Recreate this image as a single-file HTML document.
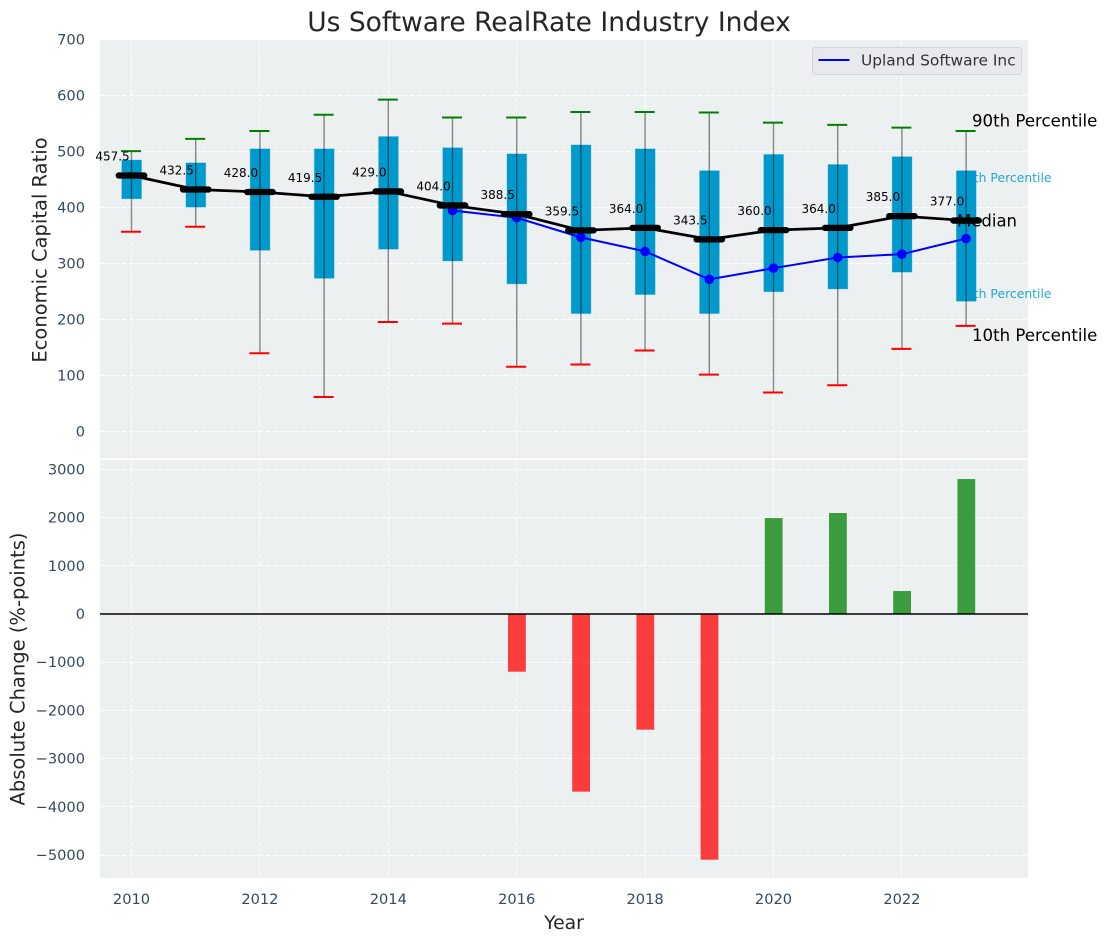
<!DOCTYPE html>
<html lang="en">
<head>
<meta charset="utf-8">
<title>Us Software RealRate Industry Index</title>
<style>
html,body{margin:0;padding:0;background:#fff;}
svg{display:block;font-family:"DejaVu Sans","Liberation Sans",sans-serif;}
</style>
</head>
<body>
<svg id="chart" xmlns="http://www.w3.org/2000/svg" width="1107" height="942" viewBox="0 0 1107 942">
  <rect x="100" y="40" width="928" height="418.5" fill="#ecf0f1"/>
  <rect x="100" y="460" width="928" height="418" fill="#ecf0f1"/>
  <g id="grid"></g>
  <text x="958" y="182" font-size="12.4" fill="#0099cc" fill-opacity="0.85">75th Percentile</text>
  <text x="958" y="298" font-size="12.4" fill="#0099cc" fill-opacity="0.85">25th Percentile</text>
  <g id="bars"></g>
  <line x1="100" x2="1028" y1="614" y2="614" stroke="#000" stroke-width="1.6"/>
  <g id="boxes"></g>
  <g id="company"></g>
  <text x="957" y="226.500" font-size="16.5" fill="#000">Median</text>
  <g id="medians"></g>
  <text x="972" y="126.500" font-size="16.6" fill="#000">90th Percentile</text>
  <text x="972" y="341" font-size="16.6" fill="#000">10th Percentile</text>
  <g id="ticks" font-size="14.6" fill="#34495e"></g>
  <text x="549" y="31" text-anchor="middle" font-size="26.5" fill="#262626">Us Software RealRate Industry Index</text>
  <text transform="translate(46.500,250) rotate(-90)" text-anchor="middle" font-size="19.5" fill="#262626">Economic Capital Ratio</text>
  <text transform="translate(24.500,669) rotate(-90)" text-anchor="middle" font-size="19.5" fill="#262626">Absolute Change (%-points)</text>
  <text x="564" y="929" text-anchor="middle" font-size="18.8" fill="#262626">Year</text>
  <g>
    <rect x="812.500" y="47.500" width="209" height="27" rx="3" fill="#e8e9ef" stroke="#d4d5dc" stroke-width="1"/>
    <line x1="818.500" x2="849.500" y1="60" y2="60" stroke="#0000ff" stroke-width="2"/>
    <text x="861" y="65.500" font-size="15.4" fill="#333">Upland Software Inc</text>
  </g>
</svg>
<script>
const years = [2010,2011,2012,2013,2014,2015,2016,2017,2018,2019,2020,2021,2022,2023];
const p90 = [501,523,537,566,593,561,561,571,571,570,552,548,543,537];
const p75 = [485,480,505,505,527,507,496,512,505,466,495,477,491,466];
const medianValues = [457.5,432.5,428.0,419.5,429.0,404.0,388.5,359.5,364.0,343.5,360.0,364.0,385.0,377.0];
const p25 = [416,401,324,274,326,305,264,211,245,211,250,255,285,233];
const p10 = [357,366,140,62,196,193,116,120,145,102,70,83,148,189];
const companyYears = [2015,2016,2017,2018,2019,2020,2021,2022,2023];
const companyValues = [395,382,347,322,272,292,311,317,345];
const changeYears = [2016,2017,2018,2019,2020,2021,2022,2023];
const changeValues = [-1197,-3686,-2400,-5097,1990,2095,477,2800];
const xTicks = [2010,2012,2014,2016,2018,2020,2022];
const topYTicks = [0,100,200,300,400,500,600,700];
const bottomYTicks = [-5000,-4000,-3000,-2000,-1000,0,1000,2000,3000];

const NS = 'http://www.w3.org/2000/svg';
const xScale = v => 131.5 + (v - 2010) * 64.2;
const yTop = v => 431.7 - v * 0.56;
const yBottom = v => 614 - v * 0.0482;
const minus = v => String(v).replace('-', '\u2212');
const snap = p => Math.floor(p) + 0.5;

function make(tag, parent, props, content) {
  const el = document.createElementNS(NS, tag);
  Object.keys(props).forEach(k => el.setAttribute(k, props[k]));
  if (content !== undefined) el.textContent = content;
  parent.appendChild(el);
  return el;
}
const gridG = document.getElementById('grid');
const barsG = document.getElementById('bars');
const boxesG = document.getElementById('boxes');
const companyG = document.getElementById('company');
const mediansG = document.getElementById('medians');
const ticksG = document.getElementById('ticks');
const gridStyle = {stroke:'#fff','stroke-width':1,'stroke-opacity':0.9,'stroke-dasharray':'5 2.2'};

xTicks.forEach(t => {
  [[40,458.5],[460,878]].forEach(r => {
    const gl = make('line', gridG, Object.assign({x1:snap(xScale(t)),x2:snap(xScale(t)),y1:r[0],y2:r[1]}, gridStyle));
    
    
  });
  const lab = make('text', ticksG, {x:xScale(t),y:904,'text-anchor':'middle'}, t);
  
  
});
topYTicks.forEach(t => {
  const gl = make('line', gridG, Object.assign({x1:100,x2:1028,y1:snap(yTop(t)),y2:snap(yTop(t))}, gridStyle));
  
  
  const lab = make('text', ticksG, {x:85,y:yTop(t)+5,'text-anchor':'end'}, t);
  
  
});
bottomYTicks.forEach(t => {
  const gl = make('line', gridG, Object.assign({x1:100,x2:1028,y1:snap(yBottom(t)),y2:snap(yBottom(t))}, gridStyle));
  
  
  const lab = make('text', ticksG, {x:85,y:yBottom(t)+5,'text-anchor':'end'}, minus(t));
  
  
});

changeValues.forEach((v, i) => {
  const x = xScale(changeYears[i]);
  const bar = make('rect', barsG, {
    x:x-8.7, width:17.8,
    y:Math.min(yBottom(v), yBottom(0)),
    height:Math.abs(yBottom(v)-yBottom(0)),
    fill:v < 0 ? '#ff0000' : '#008000', 'fill-opacity':0.75
  });
  
  
});

years.forEach((yr, i) => {
  const x = xScale(yr);
  const box = make('rect', boxesG, {
    x:x-9.700, width:19.700, y:yTop(p75[i]), height:yTop(p25[i])-yTop(p75[i]),
    fill:'#0099cc', stroke:'#0099cc','stroke-opacity':0.3,'stroke-width':1
  });
  
  
  const whisker = make('line', boxesG, {x1:x,x2:x,y1:yTop(p90[i]),y2:yTop(p10[i]),stroke:'#000','stroke-opacity':0.45,'stroke-width':1.4});
  
  
  const capHigh = make('line', boxesG, {x1:x-10.500,x2:x+9.500,y1:yTop(p90[i]),y2:yTop(p90[i]),stroke:'#008000','stroke-width':2});
  
  
  const capLow = make('line', boxesG, {x1:x-10.500,x2:x+9.500,y1:yTop(p10[i]),y2:yTop(p10[i]),stroke:'#ff0000','stroke-width':2});
  
  
});

const companyLine = make('polyline', companyG, {
  points:companyValues.map((v, i) => xScale(companyYears[i]) + ',' + yTop(v)).join(' '),
  fill:'none', stroke:'#0000ff', 'stroke-width':2
});


companyValues.forEach((v, i) => {
  const dot = make('circle', companyG, {cx:xScale(companyYears[i]),cy:yTop(v),r:4.800,fill:'#0000ff'});
  
  
});

const medianLine = make('polyline', mediansG, {
  points:medianValues.map((v, i) => xScale(years[i]) + ',' + yTop(v)).join(' '),
  fill:'none', stroke:'#000', 'stroke-width':2.700
});


medianValues.forEach((v, i) => {
  const x = xScale(years[i]);
  const mark = make('line', mediansG, {x1:x-12.700,x2:x+12.700,y1:yTop(v),y2:yTop(v),stroke:'#000','stroke-width':6.300,'stroke-linecap':'round'});
  
  
  const label = make('text', mediansG, {x:x-19,y:yTop(v)-15,'text-anchor':'middle','font-size':12,fill:'#000'}, v.toFixed(1));
  
  
});
</script>
</body>
</html>
